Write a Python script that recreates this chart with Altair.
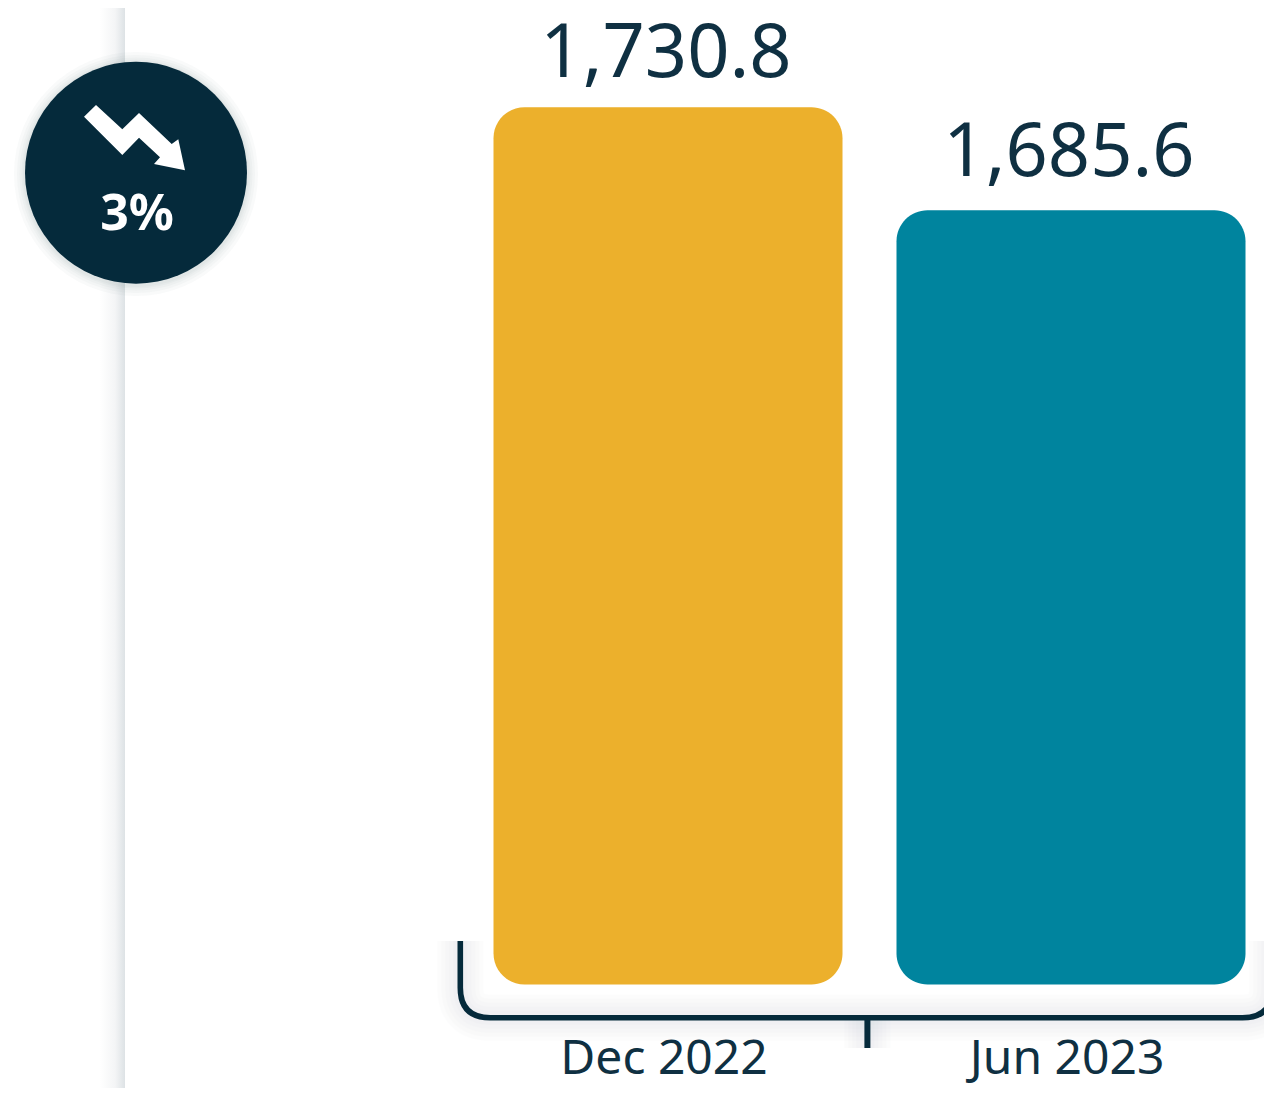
import altair as alt
import pandas as pd

categories = ["Dec 2022", "Jun 2023"]
values = [1730.8, 1685.6]
bar_colors = ["#ECB02C", "#00849E"]
baseline_value = 1345.8
change_label = "3%"

NAVY = "#052A3B"
TEXT = "#0F3042"
FONT = "Noto Sans"
W, H = 1256, 1080

df = pd.DataFrame({"period": categories, "value": values,
                   "base": [baseline_value] * len(values)})

x = alt.X("period:N", axis=None,
          scale=alt.Scale(type="point", domain=categories, range=[660, 1063], padding=0))
y = alt.Y("value:Q", axis=None, scale=alt.Scale(domain=[1300.4, 1774.3], nice=False, zero=False))
color = alt.Color("period:N", legend=None, scale=alt.Scale(domain=categories, range=bar_colors))


def deco():
    return dict(x=alt.value(0), y=alt.value(0))


def shape(path, **kw):
    return alt.Chart(df.head(1)).mark_point(shape=path, size=4, **kw).encode(**deco())


# soft band beside the sidebar edge
band = alt.Chart(df.head(1)).mark_rect(
    color=alt.LinearGradient(
        gradient="linear", x1=0, x2=1, y1=0, y2=0,
        stops=[alt.GradientStop(offset=0, color="#FFFFFF"),
               alt.GradientStop(offset=0.6, color="#F4F5F6"),
               alt.GradientStop(offset=1, color="#DDE2E5")])
).encode(x=alt.value(92), x2=alt.value(117), y=alt.value(0), y2=alt.value(H))

# circle shadow
halo = [alt.Chart(df.head(1)).mark_point(filled=True, shape="circle", color="#5A6F7B",
                                         opacity=0.035, size=d * d)
        .encode(x=alt.value(128), y=alt.value(166))
        for d in (244, 238, 233, 229, 226)]
circle = alt.Chart(df.head(1)).mark_point(filled=True, shape="circle", color=NAVY, opacity=1,
                                          size=222 * 222).encode(x=alt.value(128), y=alt.value(164.7))

arrow_path = ("M88 97L114.3 121.3L131 105L163.7 136L170.3 131.3L177 162.3L146 156L152 149.3"
              "L131 129.7L114.3 147L76 108.7Z")
arrow = shape(arrow_path, filled=True, color="#FFFFFF", opacity=1)
pct = alt.Chart(df.head(1)).mark_text(
    text=change_label, font=FONT, fontSize=50, fontWeight="bold", color="#FFFFFF",
    align="center", baseline="alphabetic").encode(x=alt.value(129), y=alt.value(222))

bracket_path = "M452.3 933V979.7Q452.3 1009.7 482.3 1009.7H1234.5Q1264.5 1009.7 1264.5 979.7V933"
tick_path = "M859.4 1012V1040"
bracket_shadow = []
for w in (46, 38, 30, 22, 14):
    bracket_shadow.append(shape(bracket_path, filled=False, color="#5A6F7B", opacity=0.012, strokeWidth=w))
    bracket_shadow.append(shape(tick_path, filled=False, color="#5A6F7B", opacity=0.012, strokeWidth=w))
bracket = shape(bracket_path, filled=False, color=NAVY, opacity=1, strokeWidth=5.6)
tick = shape(tick_path, filled=False, color=NAVY, opacity=1, strokeWidth=6)

bars = alt.Chart(df).mark_bar(width=349, cornerRadius=31).encode(x=x, y=y, y2="base:Q", color=color)
value_labels = [
    alt.Chart(df.iloc[[i]]).mark_text(
        font=FONT, fontSize=74, color=TEXT, align="center", baseline="alphabetic", dy=gap, dx=-2
    ).encode(x=x, y=y, text=alt.Text("value:Q", format=",.1f"))
    for i, gap in enumerate((-30, -34))
]
cat_labels = alt.Chart(df).mark_text(
    font=FONT, fontSize=48, color=TEXT, align="center", baseline="alphabetic", dx=-4
).encode(x=x, y=alt.value(1066), text="period:N")

chart = alt.layer(band, *halo, circle, arrow, pct, *bracket_shadow, bars, bracket, tick,
                  *value_labels, cat_labels).properties(
    width=W, height=H, padding=0, autosize=alt.AutoSizeParams(type="none"),
    background="#FFFFFF"
).configure_view(stroke=None)

chart.save("out.html", embed_options={"renderer": "svg", "actions": False})
